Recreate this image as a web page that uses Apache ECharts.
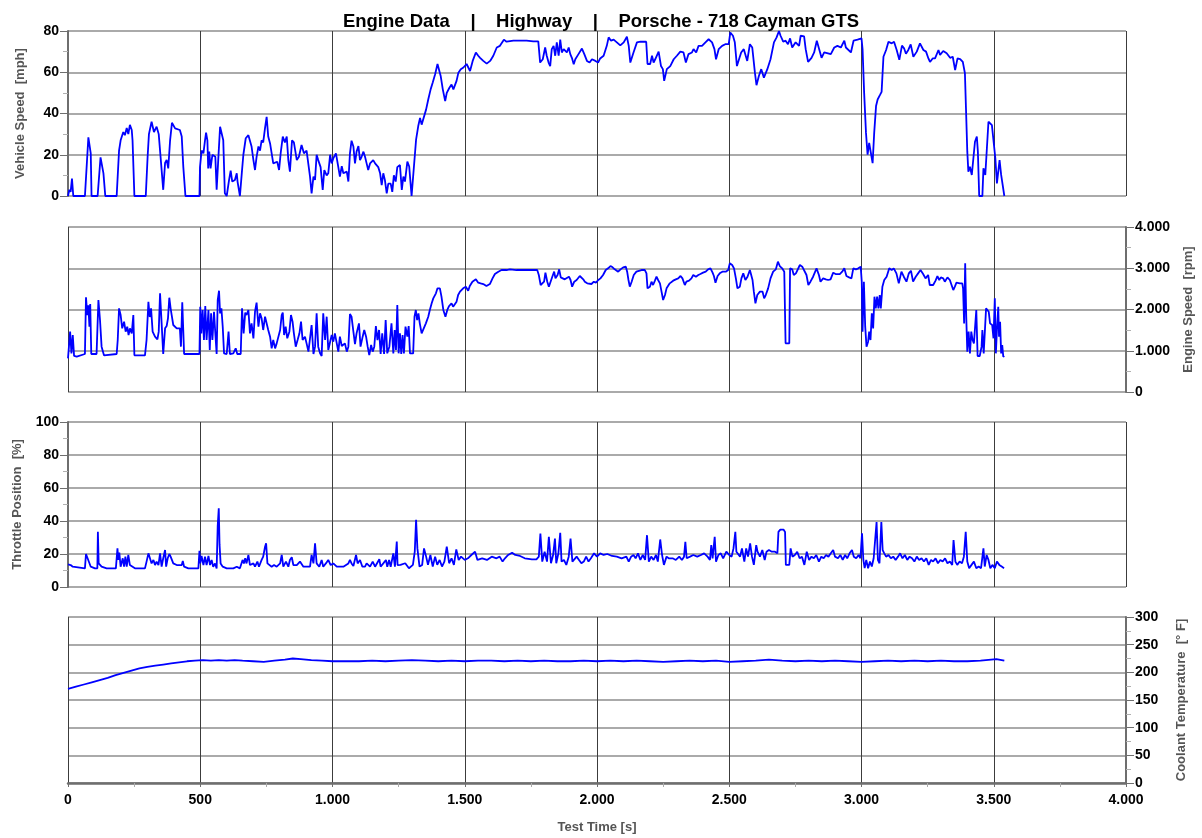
<!DOCTYPE html>
<html><head><meta charset="utf-8">
<script src="https://cdn.jsdelivr.net/npm/echarts@6/dist/echarts.min.js"></script>
<style>html,body{margin:0;padding:0;background:#fff}#c{width:1202px;height:838px}</style>
</head><body><div id="c"></div>
<script>
const titleText = "Engine Data    |    Highway    |    Porsche - 718 Cayman GTS";
const xName = "Test Time [s]";
const panelNames = ["Vehicle Speed  [mph]", "Engine Speed  [rpm]", "Throttle Position  [%]", "Coolant Temperature  [° F]"];
const xTicks = {min: 0, max: 4000, interval: 500};
const speedTicks = {min: 0, max: 80, interval: 20};
const rpmTicks = {min: 0, max: 4000, interval: 1000};
const throttleTicks = {min: 0, max: 100, interval: 20};
const coolantTicks = {min: 0, max: 300, interval: 50};

const vehicleSpeed = [[0,0],[5,3],[10,2],[15,8.5],[20,0],[64,0],[77,28.4],[86,20.7],[89,0],[112,0],[123,18.7],[134,11],[141,0],[184,0],[193,22],[199,27],[209,31],[215,29.5],[222,33],[228,30],[234,34.5],[241,32],[244,27],[251,0],[294,0],[301,19],[306,30],[316,36],[325,31],[335,33.6],[343,30],[350,19],[360,3],[367,16],[373,17.5],[379,13.4],[386,27],[393,35.5],[405,32.8],[423,32],[430,28.8],[436,14],[444,0],[497,0],[499,14],[505,22],[512,20.7],[518,27],[522,30.7],[527,27],[530,13.4],[534,21.5],[539,13.4],[546,20],[552,20.7],[557,19],[562,3],[568,17.4],[575,33.6],[581,34],[587,27],[593,1.3],[600,0],[609,7.8],[615,12.3],[621,7],[631,7.8],[638,11],[641,7],[650,0],[657,11],[663,20],[672,28],[682,29.5],[688,30],[694,24],[701,17.4],[707,12.6],[713,19],[720,24],[726,22],[732,27],[738,26],[745,33],[751,38.4],[757,28.8],[764,25.5],[770,20.7],[776,15.8],[783,16.6],[791,16.6],[798,12.6],[804,20.7],[812,28.8],[820,26],[827,28.8],[833,17.4],[839,11.8],[847,27],[854,26],[865,17.4],[873,19],[883,24.7],[892,20.7],[902,22],[909,22],[915,9.4],[921,1.3],[928,9.4],[934,7.8],[940,20],[946,17.4],[955,14],[963,3],[969,12.6],[978,10],[984,11],[991,20],[997,15.8],[1003,18.3],[1013,20.7],[1022,14],[1028,9.4],[1035,14.5],[1041,11],[1054,11.8],[1060,7],[1066,20.7],[1072,26.8],[1079,24],[1085,15.8],[1091,21.5],[1098,24.2],[1104,17.4],[1110,19],[1117,21.5],[1123,19],[1129,15.8],[1135,12.6],[1142,15.8],[1154,17.4],[1161,15.8],[1167,16.6],[1173,14],[1180,11],[1186,5.3],[1192,11],[1198,7.8],[1205,1.3],[1211,6],[1220,6],[1226,2],[1232,10],[1239,7],[1245,14],[1251,14.5],[1255,15],[1262,3],[1268,9.4],[1274,7],[1283,16.7],[1290,14.3],[1299,0],[1306,0],[1316,27.3],[1324,33.8],[1331,37.9],[1337,34.6],[1343,34],[1354,42],[1362,46.8],[1371,51.7],[1379,55],[1388,59],[1397,64],[1404,63.4],[1409,58.2],[1417,51.7],[1426,46],[1432,50],[1442,52.5],[1450,54],[1457,51.7],[1463,52.5],[1469,55.8],[1476,59.8],[1485,61.5],[1495,62.3],[1501,63],[1507,64],[1520,60.6],[1530,65.5],[1542,69.6],[1551,68],[1558,67],[1570,65.5],[1583,64.2],[1596,65.5],[1608,68],[1621,72],[1633,72.8],[1648,75.8],[1658,74.8],[1684,75.3],[1709,75.3],[1734,75.3],[1759,75],[1778,75],[1785,64.7],[1795,66.3],[1804,72],[1810,68],[1817,64.7],[1823,63],[1829,71.2],[1836,72.8],[1842,68],[1848,74.5],[1855,68],[1861,75.8],[1867,69.6],[1874,71.2],[1886,69.6],[1893,72],[1899,68.8],[1905,67],[1912,63.9],[1918,66.3],[1930,68.8],[1943,71.5],[1952,68.8],[1962,65.5],[1972,64.7],[1981,66.3],[1994,65.5],[2004,64.7],[2012,66.7],[2025,68],[2037,72.8],[2044,76.9],[2053,75.3],[2063,75.8],[2075,74.5],[2088,73],[2101,74.5],[2113,77.2],[2120,72.8],[2126,64.7],[2138,69.6],[2151,74.5],[2164,74.8],[2176,74.8],[2186,74.8],[2191,64],[2201,64],[2208,68],[2214,64.7],[2220,66.3],[2233,70],[2242,63],[2249,61.5],[2254,55.8],[2264,61.5],[2277,63],[2290,66.3],[2302,68],[2315,70],[2327,69.6],[2336,64.7],[2346,68.8],[2359,69.6],[2365,71.2],[2375,69.6],[2384,72.8],[2397,72.8],[2410,74.5],[2422,76],[2435,74.5],[2444,71.2],[2450,66.3],[2460,71.2],[2473,72.8],[2485,73.6],[2498,73.6],[2504,79.3],[2514,77.7],[2521,74.5],[2529,63],[2536,63],[2545,69.6],[2555,71.2],[2568,65.5],[2578,73.6],[2587,72],[2597,59.8],[2603,53.7],[2612,58.2],[2621,61.5],[2631,57.4],[2644,61.5],[2656,66.3],[2669,74.5],[2679,76.9],[2688,80],[2694,77.7],[2704,74.8],[2713,75.3],[2722,73.6],[2730,76.4],[2738,72],[2751,74.5],[2764,72.8],[2770,77.7],[2783,77.4],[2789,71.2],[2798,65],[2811,67],[2821,69.6],[2831,75.3],[2840,71.2],[2849,67],[2859,69.6],[2884,68.8],[2897,72],[2909,72.8],[2922,72],[2935,75.3],[2941,72],[2960,69.6],[2970,75.3],[2985,75.8],[3000,76.4],[3004,71.2],[3010,50],[3017,30.6],[3023,20],[3029,25.7],[3036,25.7],[3042,15.9],[3048,30.6],[3055,43.6],[3061,46.8],[3070,49],[3076,50.5],[3083,67.5],[3093,70.8],[3102,74.8],[3114,74],[3123,74.8],[3133,70.8],[3143,66],[3153,72.9],[3161,71.6],[3168,69],[3177,70.8],[3186,73.5],[3196,67.5],[3209,70],[3221,74],[3234,70.8],[3244,70],[3253,66.7],[3259,65],[3269,66.7],[3278,66.7],[3291,70.8],[3297,68.4],[3309,70.3],[3322,69.2],[3335,67],[3345,67.5],[3354,61],[3363,66.7],[3373,66.4],[3383,65],[3391,59.5],[3395,42.5],[3400,21.5],[3404,11.8],[3410,14.2],[3417,10.2],[3423,18.3],[3429,26.3],[3436,28.8],[3440,21.5],[3445,0],[3457,0],[3461,13.4],[3468,10.2],[3474,23],[3480,36],[3487,36.8],[3493,34.4],[3499,34.4],[3506,18.3],[3512,6.1],[3522,17.4],[3528,10.2],[3535,9.4],[3540,0]];

const engineSpeed = [[0,816],[8,1463],[13,937],[18,1381],[23,873],[33,857],[64,921],[68,2295],[73,1866],[77,2101],[81,1583],[84,2130],[88,921],[108,921],[115,2230],[121,1745],[127,1099],[136,889],[184,921],[188,1260],[193,2028],[199,1866],[205,1543],[212,1705],[218,1463],[224,1583],[229,1381],[234,1543],[241,1422],[247,1866],[251,889],[291,889],[297,1260],[304,2189],[309,1818],[314,2028],[320,1463],[329,1341],[338,1276],[343,1463],[348,2392],[354,1664],[360,921],[367,1543],[373,1600],[378,1786],[383,2286],[388,2028],[392,1866],[398,1624],[411,1543],[423,1543],[427,1099],[432,2173],[439,921],[497,921],[500,2068],[504,1422],[509,1987],[514,1260],[519,2085],[524,1260],[531,1987],[536,1018],[541,1907],[546,1260],[552,1947],[557,1422],[562,921],[566,2230],[571,2456],[575,1907],[580,2028],[585,1583],[590,937],[600,921],[607,1463],[612,921],[625,937],[634,1058],[640,921],[653,921],[658,2028],[664,1422],[670,1923],[675,1866],[682,1987],[688,1422],[694,1664],[701,1301],[707,1947],[713,2165],[720,1583],[726,1907],[732,1786],[738,1503],[745,1826],[751,1786],[757,1503],[764,1341],[770,1058],[776,1260],[783,1058],[789,1179],[802,1503],[808,1866],[812,1923],[817,1381],[823,1583],[829,1301],[837,1463],[843,1866],[849,1705],[854,1422],[861,1099],[868,1260],[875,1422],[881,1705],[887,1260],[896,1341],[902,1179],[909,978],[915,937],[921,1624],[928,921],[934,1099],[940,1907],[946,1099],[953,937],[959,873],[965,1907],[972,1260],[978,1826],[984,1018],[991,1058],[997,1381],[1003,1220],[1009,1422],[1016,1438],[1022,978],[1028,1341],[1035,1115],[1041,1099],[1047,1179],[1054,978],[1060,1099],[1066,1890],[1072,1826],[1079,1463],[1085,1163],[1091,1422],[1100,1664],[1106,1099],[1114,1341],[1120,1503],[1127,1341],[1133,1099],[1139,897],[1146,1139],[1152,978],[1158,1099],[1164,1600],[1170,1260],[1176,1503],[1182,921],[1188,1422],[1195,921],[1201,1745],[1207,937],[1215,1099],[1223,1664],[1230,937],[1235,1503],[1240,1018],[1245,2109],[1250,937],[1255,1422],[1260,921],[1265,1382],[1270,937],[1276,1584],[1283,1341],[1288,1600],[1293,937],[1299,897],[1305,937],[1310,1826],[1315,1988],[1320,1745],[1325,1907],[1330,1664],[1337,1422],[1343,1382],[1353,1664],[1362,1826],[1368,1988],[1375,2150],[1381,2270],[1391,2392],[1397,2513],[1406,2513],[1412,2311],[1419,1988],[1427,1826],[1434,1988],[1441,2085],[1450,2150],[1456,2068],[1463,2052],[1469,2190],[1475,2351],[1482,2432],[1494,2513],[1504,2553],[1513,2456],[1519,2569],[1529,2674],[1542,2731],[1551,2650],[1560,2634],[1570,2618],[1582,2569],[1595,2618],[1605,2755],[1614,2860],[1627,2917],[1639,2957],[1645,2998],[1658,2957],[1671,2973],[1696,2957],[1721,2957],[1746,2957],[1774,2957],[1780,2836],[1787,2594],[1794,2594],[1800,2674],[1805,2893],[1812,2674],[1818,2553],[1824,2513],[1831,2795],[1838,2917],[1843,2755],[1851,2836],[1857,2973],[1863,2779],[1870,2795],[1878,2731],[1885,2715],[1894,2795],[1900,2715],[1906,2553],[1914,2674],[1923,2715],[1929,2755],[1935,2812],[1942,2860],[1948,2731],[1954,2674],[1963,2634],[1969,2594],[1979,2618],[1988,2674],[1996,2650],[2005,2715],[2013,2755],[2023,2836],[2033,2957],[2042,2998],[2051,3054],[2059,3022],[2067,2973],[2080,2917],[2089,2973],[2099,3022],[2109,3038],[2114,2917],[2119,2715],[2124,2553],[2131,2674],[2139,2836],[2149,2917],[2156,2957],[2168,2957],[2181,2957],[2187,2876],[2191,2513],[2200,2553],[2206,2674],[2212,2594],[2219,2699],[2225,2795],[2231,2715],[2238,2634],[2244,2432],[2250,2230],[2257,2351],[2263,2513],[2275,2634],[2288,2699],[2298,2731],[2307,2755],[2316,2812],[2323,2755],[2332,2594],[2338,2674],[2348,2699],[2357,2755],[2364,2836],[2374,2795],[2383,2836],[2391,2860],[2401,2893],[2411,2917],[2420,2973],[2429,2998],[2437,2893],[2442,2812],[2448,2650],[2456,2812],[2464,2876],[2474,2917],[2487,2917],[2496,2957],[2502,3119],[2511,3079],[2518,2998],[2525,2755],[2531,2513],[2540,2553],[2546,2755],[2553,2876],[2561,2715],[2569,2795],[2578,2957],[2588,2715],[2593,2432],[2599,2150],[2606,2351],[2616,2432],[2626,2432],[2632,2270],[2638,2351],[2647,2513],[2656,2755],[2666,2917],[2676,2973],[2684,3160],[2691,3054],[2700,2998],[2708,2917],[2713,1180],[2719,1164],[2727,1180],[2730,2998],[2738,2973],[2744,2836],[2752,2876],[2758,2917],[2767,3079],[2776,3038],[2783,3079],[2792,2836],[2799,2594],[2807,2674],[2817,2795],[2830,2998],[2839,2836],[2845,2674],[2855,2755],[2865,2731],[2874,2715],[2883,2731],[2893,2893],[2902,2860],[2909,2893],[2918,2860],[2927,2917],[2935,2998],[2943,2812],[2953,2779],[2962,2755],[2969,2998],[2979,2973],[2988,2998],[2997,3038],[3001,2674],[3004,1463],[3009,2674],[3014,1584],[3019,1099],[3025,1220],[3029,1463],[3034,1260],[3039,1907],[3044,1543],[3049,2311],[3054,2028],[3059,2311],[3064,2028],[3069,2351],[3073,2028],[3079,2553],[3086,2715],[3095,2795],[3105,2998],[3114,2957],[3122,2998],[3132,2876],[3141,2634],[3151,2917],[3160,2795],[3170,2674],[3179,2876],[3187,2941],[3195,2674],[3205,2795],[3214,2876],[3223,2957],[3233,2860],[3242,2755],[3252,2836],[3258,2594],[3265,2634],[3271,2594],[3280,2699],[3287,2812],[3294,2715],[3300,2779],[3309,2755],[3315,2674],[3325,2779],[3334,2715],[3340,2674],[3347,2472],[3353,2553],[3359,2650],[3372,2634],[3381,2634],[3384,2513],[3388,1664],[3392,3119],[3396,1826],[3400,978],[3405,1463],[3410,937],[3415,1463],[3420,1260],[3425,1179],[3430,1139],[3434,1988],[3439,873],[3447,873],[3454,1099],[3457,1503],[3462,937],[3466,937],[3471,2028],[3476,2068],[3481,1947],[3486,1664],[3494,1624],[3499,1301],[3504,2270],[3508,937],[3512,1503],[3517,2068],[3520,1341],[3524,1705],[3528,937],[3532,1139],[3536,857],[3540,873]];

const throttle = [[0,13.7],[10,13.3],[18,12.3],[23,11.3],[64,11.3],[68,20],[74,17.4],[81,16.4],[86,12.3],[102,11.3],[111,11.3],[113,33.5],[116,14.3],[121,15.4],[127,12.3],[146,11.3],[181,11.3],[187,23.4],[190,16.4],[194,20.8],[199,12.3],[207,17.4],[212,12.3],[217,18.4],[222,12.3],[228,19.4],[234,13.3],[241,12.3],[253,11.3],[291,11.3],[297,15.4],[304,20.4],[310,21.4],[316,14.3],[323,16.4],[329,13.3],[335,15.4],[342,13.3],[348,20.4],[354,12.3],[360,17.4],[367,22.4],[371,12.3],[377,17.4],[383,20],[388,18.4],[393,18.4],[398,14.3],[411,13.3],[430,13.3],[434,15.8],[439,12.3],[455,11.3],[493,11.3],[497,22],[500,14.3],[505,18.8],[512,13.3],[518,18.4],[524,13.3],[531,18.8],[537,13.3],[543,16.4],[549,12.3],[556,14.3],[562,11.3],[566,37],[570,47.7],[573,25.5],[577,14.3],[585,12.3],[600,11.3],[625,11.3],[638,12.3],[650,11.3],[660,16.4],[665,14.3],[670,17.4],[675,14.3],[682,19.4],[688,13.3],[701,14.3],[707,12.3],[716,15.4],[722,12.3],[732,16.4],[738,18.4],[745,24.4],[749,26.5],[754,14.3],[761,13.3],[770,12.3],[779,13.3],[789,12.3],[802,14.3],[808,19.4],[814,12.3],[824,15.4],[833,12.3],[839,16.4],[846,18],[852,13.3],[865,13.3],[877,15.4],[890,12.3],[915,12.3],[921,19.4],[928,14.3],[934,26.5],[940,14.3],[950,12.3],[959,16.4],[965,12.3],[975,14.3],[984,16.4],[993,13.3],[1003,14.3],[1016,12.3],[1041,12.3],[1060,14.3],[1066,16.4],[1072,14.3],[1079,12.7],[1089,19.4],[1095,14.3],[1104,16.4],[1113,12.3],[1123,12.3],[1129,14.3],[1142,12.3],[1152,15.4],[1161,12.3],[1177,16.8],[1182,12.3],[1192,14.3],[1202,16.4],[1207,12.3],[1214,16.4],[1220,12.3],[1230,20.4],[1236,12.3],[1243,27.5],[1246,13.3],[1257,13.4],[1264,12.4],[1275,14.4],[1289,11.4],[1304,13.4],[1311,21.4],[1316,40.8],[1321,23.4],[1329,12.4],[1339,13.4],[1346,23.4],[1354,18.4],[1361,13.4],[1370,19.4],[1379,12.4],[1388,18.4],[1396,13.4],[1405,16.4],[1414,12.4],[1423,15.4],[1432,24.4],[1441,14.4],[1450,17.4],[1459,13.4],[1468,22.8],[1477,16.4],[1486,18.4],[1500,16.4],[1512,17.4],[1525,19.4],[1539,21.4],[1548,16.4],[1566,17.4],[1584,16.4],[1602,18.4],[1620,17.4],[1632,18.4],[1643,15.4],[1652,17.4],[1664,19.4],[1679,20.8],[1691,19.4],[1709,18.8],[1727,17.4],[1754,16.8],[1771,16.8],[1780,18.4],[1786,32.4],[1793,15.4],[1802,21.4],[1811,15.4],[1818,30.4],[1826,14.4],[1834,19.4],[1841,29.4],[1846,14.4],[1854,20.4],[1861,32.8],[1866,15.4],[1875,16.4],[1884,13.4],[1893,18.4],[1900,29.4],[1907,15.4],[1914,14.4],[1923,18.4],[1932,16.4],[1941,14.4],[1950,15.4],[1959,18.4],[1968,15.4],[1977,17.4],[1989,20.4],[2000,18.4],[2012,20.4],[2025,19.4],[2039,20],[2057,18.8],[2075,18.4],[2093,17.4],[2111,18.4],[2120,15.4],[2129,18.4],[2138,19.4],[2146,17.4],[2155,20.4],[2164,16.4],[2173,19.4],[2182,16.4],[2189,31.4],[2196,15.4],[2205,18.4],[2214,16.4],[2223,19.4],[2230,15.4],[2239,28.8],[2246,19.4],[2253,13.4],[2263,18.4],[2271,17.4],[2286,17.4],[2298,16.4],[2311,18.4],[2321,16.4],[2329,18.4],[2334,27.4],[2339,17.4],[2352,18.4],[2364,19.4],[2379,18.4],[2393,19.4],[2405,20.4],[2418,18.4],[2427,16.4],[2432,25.4],[2437,17.4],[2445,30.4],[2450,15.4],[2459,19.4],[2468,20.4],[2477,17.4],[2489,21.4],[2500,19.4],[2509,18.4],[2516,23.4],[2523,33.4],[2527,21.4],[2534,22.4],[2541,18.4],[2548,23.4],[2557,15.4],[2564,23.4],[2571,18.4],[2579,26.4],[2586,18.4],[2593,13.4],[2602,25.4],[2607,21.4],[2616,18.4],[2625,22.4],[2634,16.4],[2641,21.4],[2650,22.4],[2661,21.4],[2673,21.4],[2682,20.4],[2686,33.4],[2693,34.8],[2705,34.8],[2711,33.4],[2714,13.4],[2727,13.4],[2732,23.4],[2739,18.4],[2748,19.4],[2757,21.4],[2766,17.4],[2775,18.4],[2784,13.4],[2793,21.4],[2802,16.4],[2811,18.4],[2820,17.4],[2829,19.4],[2839,15.4],[2848,18.4],[2857,17.4],[2866,19.4],[2875,18.4],[2884,20.4],[2893,22.4],[2900,18.4],[2911,17.4],[2920,19.4],[2929,16.4],[2938,19.4],[2946,17.4],[2955,20.4],[2964,22.4],[2971,18.4],[2980,17.4],[2989,19.4],[2996,17.4],[3002,32.6],[3007,16.4],[3012,11.4],[3018,16.4],[3025,11.4],[3032,15.4],[3039,12.4],[3046,17.4],[3052,18.4],[3057,39.4],[3062,16.4],[3068,14.4],[3075,39.4],[3080,22.4],[3086,20.4],[3093,18.4],[3102,19.4],[3111,17.4],[3120,18.4],[3129,16.4],[3138,18.4],[3146,20.4],[3155,17.4],[3164,19.4],[3173,16.4],[3182,18.4],[3191,17.4],[3200,15.4],[3209,18.4],[3218,16.4],[3227,17.4],[3236,15.4],[3245,17.4],[3254,13.4],[3263,16.4],[3271,15.4],[3280,17.4],[3289,14.4],[3298,16.4],[3307,15.4],[3316,17.4],[3325,14.4],[3334,15.4],[3343,13.4],[3348,28.4],[3355,15.4],[3362,13.4],[3371,15.4],[3380,14.4],[3387,18.4],[3394,33.4],[3400,15.4],[3407,11.4],[3416,13.4],[3425,15.4],[3434,11.4],[3443,12.4],[3452,11.4],[3461,23.4],[3466,12.4],[3473,19.4],[3480,16.4],[3487,11.4],[3495,13.4],[3504,11.4],[3512,15.4],[3521,13.4],[3530,12.4],[3539,11.4]];

const coolant = [[0,170],[30,174],[60,178],[90,182],[120,186],[150,190],[180,195],[210,199],[240,203],[270,207],[300,210],[330,212],[360,214],[390,216],[420,218],[450,220],[480,221],[510,222],[540,221],[570,222],[600,221],[630,222],[660,221],[700,220],[740,219],[780,221],[820,223],[850,225],[880,224],[920,222],[960,221],[1000,220],[1050,220],[1100,220],[1150,221],[1200,220],[1250,221],[1300,222],[1350,221],[1400,220],[1450,221],[1500,220],[1550,221],[1600,221],[1650,220],[1700,221],[1750,220],[1800,221],[1850,220],[1900,220],[1950,221],[2000,220],[2050,221],[2100,220],[2150,221],[2200,220],[2250,219],[2300,220],[2350,221],[2400,220],[2450,221],[2500,219],[2550,220],[2600,221],[2650,223],[2700,221],[2750,220],[2800,221],[2850,220],[2900,221],[2950,220],[3000,219],[3050,220],[3100,221],[3150,220],[3200,221],[3250,220],[3300,221],[3350,220],[3400,220],[3450,221],[3490,223],[3510,224],[3540,221]];

const FONT = "'Liberation Sans', Arial, sans-serif";
function fmt(v){ return String(v).replace(/\B(?=(\d{3})+(?!\d))/g, '.'); }

const grids = [
  {left: 68, right: 76, top: 31, height: 165},
  {left: 68, right: 76, top: 227, height: 165},
  {left: 68, right: 76, top: 422, height: 165},
  {left: 68, right: 76, top: 617, height: 166}
].map(g => Object.assign(g, {containLabel: false, outerBoundsMode: 'none'}));
const yTicks = [speedTicks, rpmTicks, throttleTicks, coolantTicks];
const yPos = ['left', 'right', 'left', 'right'];
const nameGaps = [41, 56, 44, 49];
const seriesData = [vehicleSpeed, engineSpeed, throttle, coolant];

const xAxes = grids.map((g, i) => {
  const last = i === 3;
  return {
    type: 'value', gridIndex: i, min: xTicks.min, max: xTicks.max, interval: xTicks.interval,
    axisLine: {show: last, onZero: false, lineStyle: {color: '#6e6e6e', width: 2.5}},
    axisTick: {show: last, length: 4, lineStyle: {color: '#6e6e6e'}},
    minorTick: {show: last, splitNumber: 2, length: 4, lineStyle: {color: '#aaa'}},
    axisLabel: {show: last, color: '#000', fontWeight: 'bold', fontSize: 14, fontFamily: FONT, margin: 10, formatter: fmt},
    splitLine: {show: true, lineStyle: {color: '#3c3c3c', width: 1}},
    name: last ? xName : '', nameLocation: 'middle', nameGap: 38,
    nameTextStyle: {color: '#555', fontWeight: 'bold', fontSize: 13, fontFamily: FONT}
  };
});
const yAxes = grids.map((g, i) => ({
  type: 'value', gridIndex: i, position: yPos[i],
  min: yTicks[i].min, max: yTicks[i].max, interval: yTicks[i].interval,
  axisLine: {show: true, onZero: false, lineStyle: {color: '#6e6e6e', width: 2}},
  axisTick: {show: true, inside: false, length: 8, lineStyle: {color: '#6e6e6e', width: 1}},
  minorTick: {show: true, splitNumber: 2, length: 5, lineStyle: {color: '#b0b0b0'}},
  axisLabel: {color: '#000', fontWeight: 'bold', fontSize: 14, fontFamily: FONT, margin: 9, formatter: fmt},
  splitLine: {show: true, lineStyle: {color: '#8e8e8e', width: 1.5}},
  name: panelNames[i], nameLocation: 'middle', nameGap: nameGaps[i], nameRotate: 90,
  nameTextStyle: {color: '#555', fontWeight: 'bold', fontSize: 13, fontFamily: FONT}
}));
const series = seriesData.map((d, i) => ({
  type: 'line', xAxisIndex: i, yAxisIndex: i, data: d, showSymbol: false, symbol: 'none',
  lineStyle: {color: '#0000ff', width: 1.8}, silent: true, z: 5
}));

const chart = echarts.init(document.getElementById('c'), null, {renderer: 'canvas'});
chart.setOption({
  animation: false,
  backgroundColor: '#fff',
  title: {text: titleText, left: 596, top: 7, textAlign: 'center',
    textStyle: {color: '#000', fontWeight: 'bold', fontSize: 18.5, fontFamily: FONT}},
  grid: grids,
  xAxis: xAxes,
  yAxis: yAxes,
  series: series
});
</script></body></html>
